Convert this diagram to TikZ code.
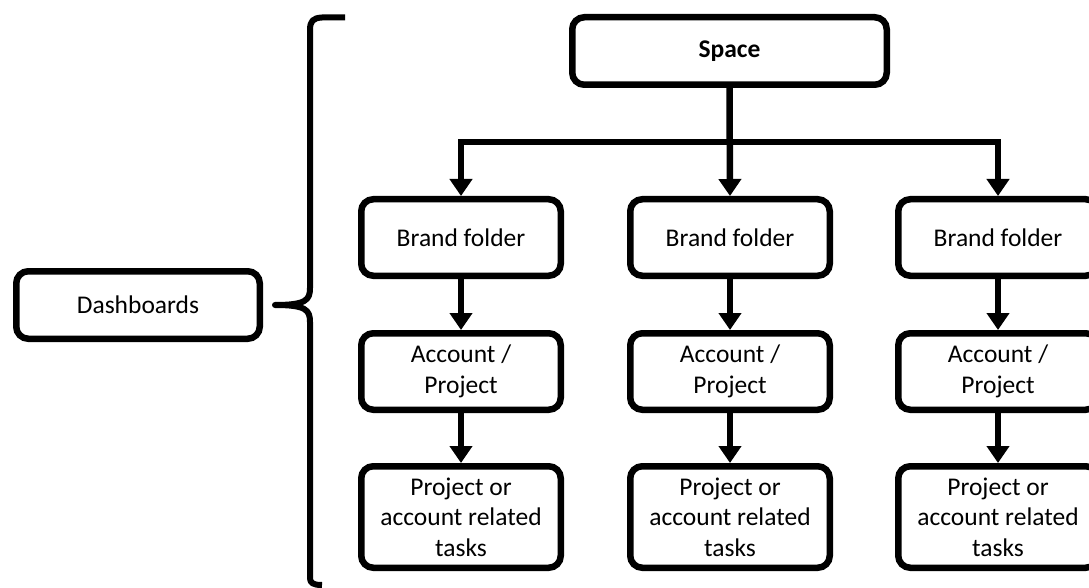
\documentclass[tikz,border=0pt]{standalone}
\usepackage{fontspec}
\setmainfont{Carlito}
\usetikzlibrary{arrows.meta}

\tikzset{
  box/.style={draw=black, line width=6.5pt, rounded corners=12pt, fill=white,
    align=center, inner sep=0pt, font=\fontsize{25.5}{30.5}\selectfont},
  wide/.style={box, minimum width=199.5pt},
  arr/.style={line width=6.5pt, line join=miter,
    -{Triangle[width=22pt,length=17pt]}},
  brace/.style={line width=6pt, line cap=butt, line join=round}
}

\begin{document}
\begin{tikzpicture}[x=1pt, y=-1pt]
  \useasboundingbox (0,0) rectangle (1089,588);

  % top of the hierarchy
  \node[box, minimum width=314.5pt, minimum height=67.5pt,
        font=\fontsize{25.5}{30.5}\selectfont\bfseries] (space) at (729.5,51) {Space};

  % left sidebar item
  \node[box, minimum width=243.5pt, minimum height=67.5pt] (dash) at (138,305) {Dashboards};

  % three columns: brand folder -> account/project -> tasks
  \foreach \i/\cx in {1/461, 2/730, 3/998} {
    \node[wide, minimum height=76.5pt] (b\i) at (\cx,237.5) {Brand folder};
    \node[wide, minimum height=76.5pt] (a\i) at (\cx,371.5) {Account /\\Project};
    \node[wide, minimum height=101.5pt] (t\i) at (\cx,517) {Project or\\account related\\tasks};
    \draw[arr] (b\i.south) -- (a\i.north);
    \draw[arr] (a\i.south) -- (t\i.north);
  }

  % fan-out from Space to the brand folders
  \coordinate (hub) at (730,142);
  \draw[arr] (space.south) -- (b2.north);
  \draw[arr] (hub) -| (b1.north);
  \draw[arr] (hub) -| (b3.north);

  % curly bracket grouping the hierarchy
  \coordinate (btop) at (345,17.5);
  \coordinate (btip) at (275,305);
  \coordinate (bbot) at (322,585);
  \draw[brace] (btop) -- (322,17.5) .. controls (313,18) and (310,21) .. (310,30)
    -- (310,288) .. controls (310,300) and (306,305) .. (btip)
    .. controls (306,305) and (310,310) .. (310,322)
    -- (310,578) .. controls (310,583) and (313,585) .. (bbot);
\end{tikzpicture}
\end{document}
